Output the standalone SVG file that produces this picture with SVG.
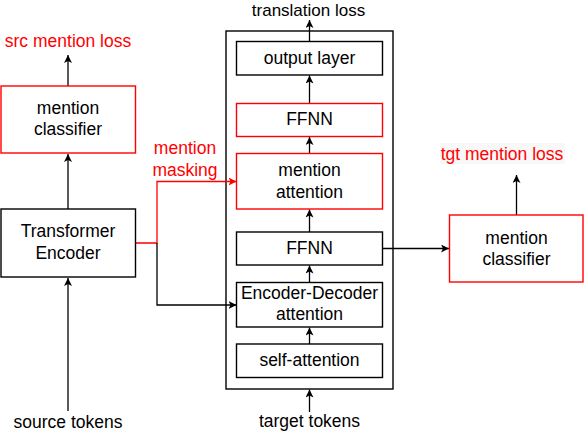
<svg xmlns="http://www.w3.org/2000/svg" width="584" height="432" viewBox="0 0 584 432">
<style>
text{font-family:"Liberation Sans",Arial,sans-serif;font-size:17.5px;fill:#000;text-anchor:middle}
text.red{fill:#ff0000}
.box{fill:#fff;stroke:#000;stroke-width:1.4}
.rbox{fill:#fff;stroke:#ff0000;stroke-width:1.4}
.ln{fill:none;stroke:#000;stroke-width:1.3}
.rln{fill:none;stroke:#ff0000;stroke-width:1.3}
</style>
<defs>
<marker id="arr" viewBox="0 0 8 8" refX="8" refY="4" markerWidth="8" markerHeight="8" markerUnits="userSpaceOnUse" orient="auto">
<path d="M0,0 L8,4 L0,8 L2,4 z" fill="#000"/>
</marker>
<marker id="arrR" viewBox="0 0 8 8" refX="8" refY="4" markerWidth="8" markerHeight="8" markerUnits="userSpaceOnUse" orient="auto">
<path d="M0,0 L8,4 L0,8 L2,4 z" fill="#ff0000"/>
</marker>
</defs>

<g id="decoder-frame"><rect x="226" y="31" width="167" height="358" class="box"/></g>

<g id="connectors">
<line x1="68" y1="86" x2="68" y2="55" class="ln" marker-end="url(#arr)"/>
<line x1="68" y1="209" x2="68" y2="154" class="ln" marker-end="url(#arr)"/>
<line x1="68" y1="411" x2="68" y2="278" class="ln" marker-end="url(#arr)"/>
<polyline points="135,243 157,243 157,181.5 236.5,181.5" class="rln" marker-end="url(#arrR)"/>
<polyline points="157,243 157,305 236.5,305" class="ln" marker-end="url(#arr)"/>
<line x1="309.5" y1="41.5" x2="309.5" y2="20" class="ln" marker-end="url(#arr)"/>
<line x1="309.5" y1="103.5" x2="309.5" y2="75.5" class="ln" marker-end="url(#arr)"/>
<line x1="309.5" y1="153.5" x2="309.5" y2="137" class="ln" marker-end="url(#arr)"/>
<line x1="309.5" y1="232" x2="309.5" y2="209.5" class="ln" marker-end="url(#arr)"/>
<line x1="309.5" y1="282.5" x2="309.5" y2="265.5" class="ln" marker-end="url(#arr)"/>
<line x1="309.5" y1="344" x2="309.5" y2="327.5" class="ln" marker-end="url(#arr)"/>
<line x1="309.5" y1="412" x2="309.5" y2="389.5" class="ln" marker-end="url(#arr)"/>
<line x1="382.5" y1="248.5" x2="449" y2="248.5" class="ln" marker-end="url(#arr)"/>
<line x1="516.5" y1="215" x2="516.5" y2="175" class="ln" marker-end="url(#arr)"/>
</g>

<g id="src-classifier"><rect x="1" y="86" width="134.5" height="67" class="rbox"/>
<text x="68" y="113.5">mention</text><text x="68" y="135">classifier</text></g>

<g id="transformer-encoder"><rect x="1" y="209" width="134.5" height="68" class="box"/>
<text x="68" y="237">Transformer</text><text x="68" y="259">Encoder</text></g>

<g id="output-layer"><rect x="236.5" y="41.5" width="146" height="33.5" class="box"/>
<text x="309.5" y="63.5">output layer</text></g>

<g id="ffnn-red"><rect x="236.5" y="103.5" width="146" height="33" class="rbox"/>
<text x="309.5" y="125">FFNN</text></g>

<g id="mention-attention"><rect x="236.5" y="153.5" width="146" height="55.5" class="rbox"/>
<text x="309.5" y="175.5">mention</text><text x="309.5" y="197.5">attention</text></g>

<g id="ffnn"><rect x="236.5" y="232" width="146" height="33" class="box"/>
<text x="309.5" y="253.5">FFNN</text></g>

<g id="enc-dec-attention"><rect x="236.5" y="282.5" width="146" height="44.5" class="box"/>
<text x="309.5" y="298.5">Encoder-Decoder</text><text x="309.5" y="320">attention</text></g>

<g id="self-attention"><rect x="236.5" y="344" width="146" height="33.5" class="box"/>
<text x="309.5" y="365.5">self-attention</text></g>

<g id="tgt-classifier"><rect x="449.5" y="215" width="133.5" height="67" class="rbox"/>
<text x="516.5" y="243.5">mention</text><text x="516.5" y="264.5">classifier</text></g>

<g id="labels">
<text x="68" y="47" class="red">src mention loss</text>
<text x="308.5" y="15.5" style="font-size:17px">translation loss</text>
<text x="185" y="153.5" class="red">mention</text>
<text x="185" y="175.5" class="red">masking</text>
<rect x="440" y="143" width="125" height="21" fill="#f8f8f8"/>
<text x="502" y="159.5" class="red">tgt mention loss</text>
<text x="68" y="427.5">source tokens</text>
<text x="309.5" y="427">target tokens</text>
</g>
</svg>
